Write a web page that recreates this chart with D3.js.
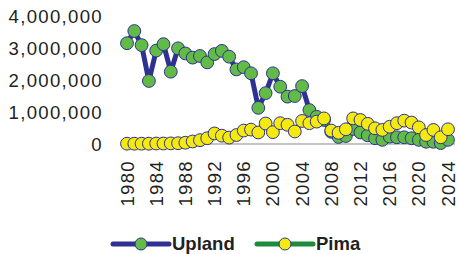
<!DOCTYPE html>
<meta charset="utf-8" />
<head>
  <script src="https://d3js.org/d3.v7.min.js"></script>
  <style>
    body { margin: 0; background: #fff; }
    text { font-family: "Liberation Sans", Arial, sans-serif; fill: #231f20; }
  </style>
</head>
<body>
  <div id="my_data"></div>
</body>
<script>
  // years and values (bales)
  var years = d3.range(1980, 2025);
  var upland = [3150000, 3530000, 3090000, 1970000, 2920000, 3120000, 2260000, 2990000, 2830000, 2700000,
    2750000, 2550000, 2810000, 2910000, 2730000, 2330000, 2400000, 2210000, 1130000, 1590000,
    2210000, 1790000, 1480000, 1500000, 1810000, 1060000, 850000, 750000, 380000, 220000,
    250000, 470000, 360000, 270000, 180000, 130000, 230000, 210000, 210000, 180000,
    130000, 70000, 70000, 30000, 130000];
  var pima = [10000, 10000, 10000, 10000, 15000, 15000, 20000, 25000, 40000, 80000,
    120000, 180000, 330000, 260000, 200000, 280000, 420000, 450000, 360000, 640000,
    370000, 650000, 600000, 390000, 720000, 650000, 700000, 800000, 420000, 350000,
    460000, 800000, 750000, 630000, 490000, 440000, 540000, 650000, 730000, 670000,
    520000, 280000, 440000, 210000, 460000];
  var yTicks = [0, 1000000, 2000000, 3000000, 4000000];
  var xTicks = [1980, 1984, 1988, 1992, 1996, 2000, 2004, 2008, 2012, 2016, 2020, 2024];

  var width = 458, height = 254;
  var svg = d3.select("#my_data").append("svg")
    .attr("width", width)
    .attr("height", height);

  var x = d3.scaleLinear().domain([1980, 2024]).range([127, 448]);
  var y = d3.scaleLinear().domain([0, 4000000]).range([144, 16]);

  // baseline
  svg.append("line")
    .attr("x1", 120).attr("x2", 455)
    .attr("y1", y(0)).attr("y2", y(0))
    .attr("stroke", "#c4c4c4").attr("stroke-width", 2);

  // y labels
  svg.append("g").selectAll("text")
    .data(yTicks).enter().append("text")
    .attr("x", 103)
    .attr("y", function (d) { return y(d); })
    .attr("dy", "0.35em")
    .attr("text-anchor", "end")
    .style("font-size", "18.6px")
    .style("letter-spacing", "1.3px")
    .text(function (d) { return d3.format(",")(d); });

  // x labels, rotated
  svg.append("g").selectAll("text")
    .data(xTicks).enter().append("text")
    .attr("transform", function (d) { return "translate(" + (x(d) + 6.5) + ",160) rotate(-90)"; })
    .attr("text-anchor", "end")
    .style("font-size", "18.6px")
    .style("letter-spacing", "1.3px")
    .text(function (d) { return d; });

  var blue = "#2e3192", green = "#1e8a3e", greenDot = "#62bb46", yellow = "#f4ea10";

  var series = [
    { name: "Upland", values: upland, line: blue, fill: greenDot },
    { name: "Pima", values: pima, line: green, fill: yellow }
  ];

  var line = d3.line()
    .x(function (d, i) { return x(years[i]); })
    .y(function (d) { return y(d); });

  series.forEach(function (s) {
    svg.append("path")
      .datum(s.values)
      .attr("d", line)
      .attr("fill", "none")
      .attr("stroke", s.line)
      .attr("stroke-width", 5)
      .attr("stroke-linejoin", "round");
    svg.append("g").selectAll("circle")
      .data(s.values).enter().append("circle")
      .attr("cx", function (d, i) { return x(years[i]); })
      .attr("cy", function (d) { return y(d); })
      .attr("r", 6.4)
      .attr("fill", s.fill)
      .attr("stroke", blue)
      .attr("stroke-width", 1);
  });

  // legend
  var legend = svg.append("g").attr("transform", "translate(0,244)");
  var lx = [113, 257];
  series.forEach(function (s, i) {
    var g = legend.append("g").attr("transform", "translate(" + lx[i] + ",0)");
    g.append("line").attr("x1", 0).attr("x2", 56).attr("y1", 0).attr("y2", 0)
      .attr("stroke", s.line).attr("stroke-width", 5).attr("stroke-linecap", "round");
    g.append("circle").attr("cx", 28).attr("cy", 0).attr("r", 6)
      .attr("fill", s.fill).attr("stroke", blue).attr("stroke-width", 1);
    g.append("text").attr("x", 59).attr("dy", "0.35em")
      .style("font-size", "18.5px").style("font-weight", "bold")
      .text(s.name);
  });
</script>
